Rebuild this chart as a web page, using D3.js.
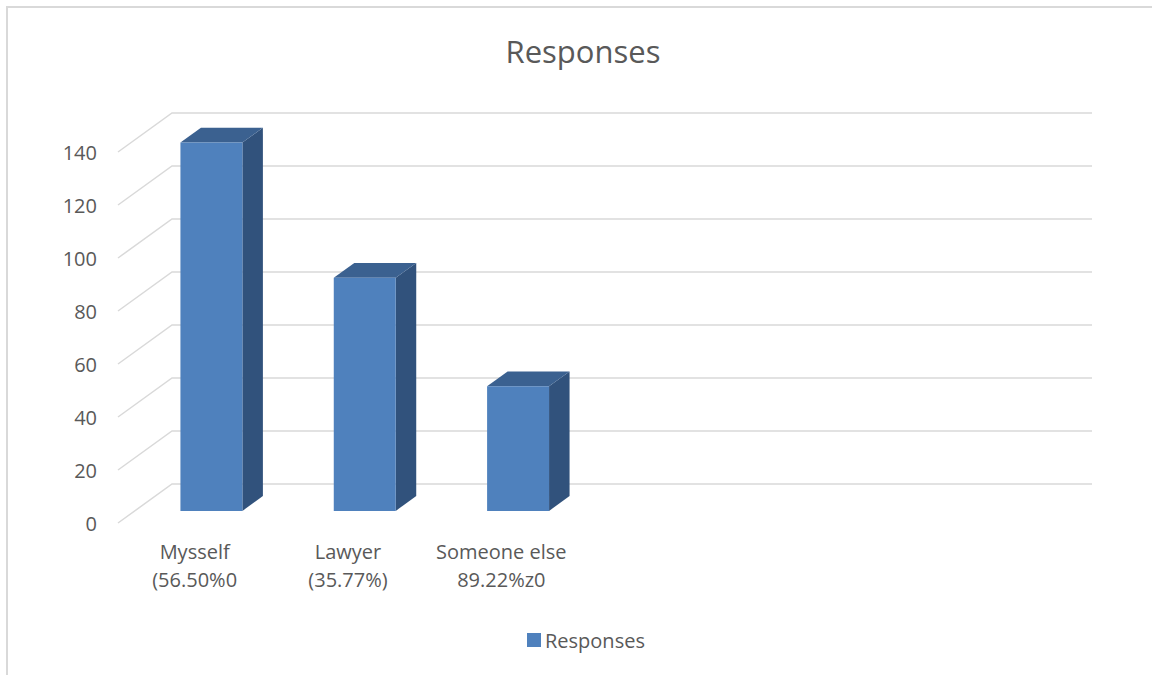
<!DOCTYPE html>
<html>
<head>
<meta charset="utf-8">
<script src="https://cdn.jsdelivr.net/npm/d3@7"></script>
<style>
  html, body { margin: 0; padding: 0; background: #ffffff; overflow: hidden; }
  svg { display: block; }
  text { font-family: "Open Sans", "Noto Sans", sans-serif; fill: #595959; }
</style>
</head>
<body>
<svg id="chart" width="1152" height="675"></svg>
<script>
// ---- data ----
const chartTitle = "Responses";
const seriesName = "Responses";
const categories = [
  ["Mysself", "(56.50%0"],
  ["Lawyer", "(35.77%)"],
  ["Someone else", "89.22%z0"],
  ["", ""],
  ["", ""],
  ["", ""]
];
const values = [139, 88, 47, null, null, null];
const yTicks = [0, 20, 40, 60, 80, 100, 120, 140];

// ---- layout ----
const svg = d3.select("#chart");

// chart border
svg.append("rect")
  .attr("x", 7).attr("y", 7)
  .attr("width", 1300).attr("height", 800)
  .attr("fill", "#ffffff")
  .attr("stroke", "#d9d9d9").attr("stroke-width", 2);

// back wall scales
const x = d3.scaleBand().domain(d3.range(categories.length)).range([172, 1092]).paddingInner(0).paddingOuter(0);
const y = d3.scaleLinear().domain([0, 140]).range([484, 113]);

// depth projection: d = 0 at back wall, d = 1 at front
const depthDX = -54, depthDY = 39;
const proj = (px, py, d) => [px + depthDX * d, py + depthDY * d];

// gridlines
const grid = svg.append("g");
yTicks.forEach(t => {
  const yy = y(t);
  const f = proj(172, yy, 1);
  grid.append("path")
    .attr("d", d3.line()([f, [172, yy], [1092, yy]]))
    .attr("fill", "none")
    .attr("stroke", "#d9d9d9")
    .attr("stroke-width", 1.5);
});

// y tick labels
svg.append("g").selectAll("text").data(yTicks).join("text")
  .attr("x", 97)
  .attr("y", d => proj(172, y(d), 1)[1])
  .attr("text-anchor", "end")
  .attr("dominant-baseline", "central")
  .attr("font-size", 20)
  .text(d => d);

// bars
const dFront = 0.69, dBack = 0.31;
const barFrac = 0.404;
const bars = svg.append("g");
values.forEach((v, i) => {
  if (v == null) return;
  const bw = x.bandwidth() * barFrac;
  const bx0 = x(i) + (x.bandwidth() - bw) / 2;
  const bx1 = bx0 + bw;
  const y0 = y(0), y1 = y(v);
  const fl0 = proj(bx0, y0, dFront), fr0 = proj(bx1, y0, dFront);
  const fl1 = proj(bx0, y1, dFront), fr1 = proj(bx1, y1, dFront);
  const br0 = proj(bx1, y0, dBack), br1 = proj(bx1, y1, dBack), bl1 = proj(bx0, y1, dBack);
  bars.append("path")
    .attr("d", d3.line()([fr0, fr1, br1, br0]) + "Z")
    .attr("fill", "#31527c");
  bars.append("path")
    .attr("d", d3.line()([fl1, fr1, br1, bl1]) + "Z")
    .attr("fill", "#3b6190");
  bars.append("path")
    .attr("d", d3.line()([fl0, fl1, fr1, fr0]) + "Z")
    .attr("fill", "#4f81bd");
});

// category labels
const cat = svg.append("g");
categories.forEach((c, i) => {
  const cx = proj(x(i) + x.bandwidth() / 2, 0, 1)[0];
  const t = cat.append("text").attr("text-anchor", "middle").attr("font-size", 20);
  t.append("tspan").attr("x", cx).attr("y", 559).text(c[0]);
  t.append("tspan").attr("x", cx).attr("y", 587).text(c[1]);
});

// title
svg.append("text")
  .attr("x", 583).attr("y", 63)
  .attr("text-anchor", "middle")
  .attr("font-size", 31)
  .text(chartTitle);

// legend
const lg = svg.append("g");
lg.append("rect").attr("x", 527).attr("y", 633).attr("width", 14).attr("height", 14).attr("fill", "#4f81bd");
lg.append("text").attr("x", 545).attr("y", 648).attr("font-size", 20).text(seriesName);
</script>
</body>
</html>
